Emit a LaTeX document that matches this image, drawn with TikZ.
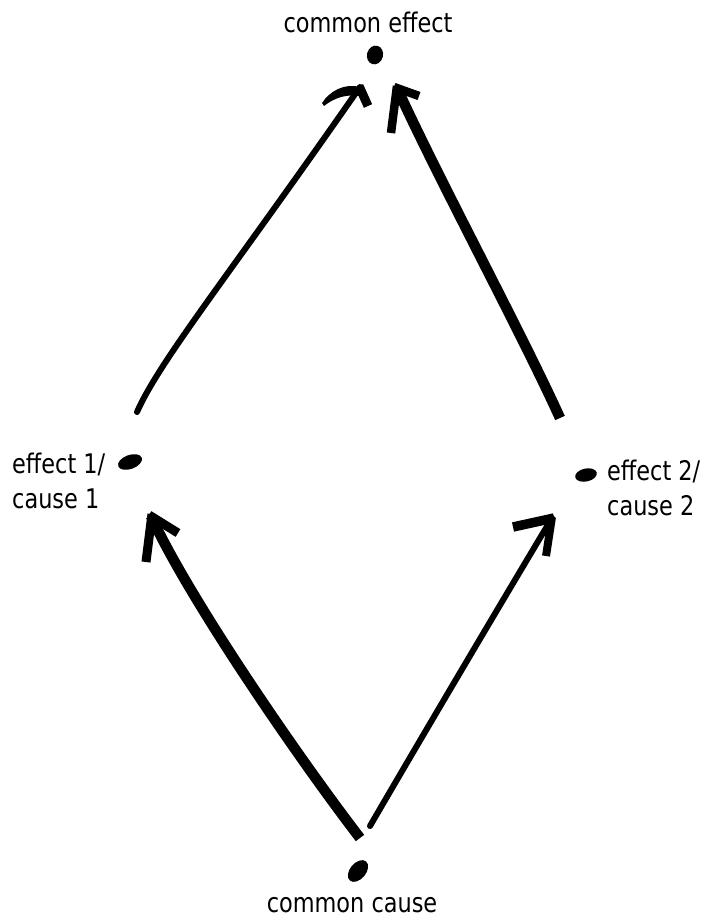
\documentclass[tikz,border=0pt]{standalone}
\usepackage{fontspec}
\setmainfont[FakeStretch=0.83]{DejaVu Sans}
\usetikzlibrary{calc,shapes.geometric}

\begin{document}
\begin{tikzpicture}[x=1pt,y=-1pt,
  blob/.style={ellipse,fill=black,draw=none,inner sep=0pt},
  lbl/.style={inner sep=0pt,font=\fontsize{27}{35}\selectfont},
  thinstroke/.style={line width=6pt,line cap=round},
  thickstroke/.style={line width=10.5pt,line cap=butt},
  barb/.style={line width=8.5pt,line cap=butt,line join=round},
]
\useasboundingbox (0,0) rectangle (704,920);

% the four events
\node[blob,minimum width=16pt,minimum height=19pt,rotate=-15] (ce) at (375,55) {};
\node[blob,minimum width=25pt,minimum height=14pt,rotate=20] (e1) at (130,462) {};
\node[blob,minimum width=22pt,minimum height=13pt,rotate=12] (e2) at (586,475) {};
\node[blob,minimum width=25pt,minimum height=16pt,rotate=50] (cc) at (358,871) {};

% labels
\node[lbl,anchor=base] (tce) at (368,33) {common effect};
\node[lbl,anchor=base] (tcc) at (352,912) {common cause};
\node[lbl,anchor=base west] (te1a) at (12,473) {effect 1/};
\node[lbl,anchor=base west] (te1b) at (12,508) {cause 1};
\node[lbl,anchor=base west] (te2a) at (607,480) {effect 2/};
\node[lbl,anchor=base west] (te2b) at (607,515) {cause 2};

% arrow ends, placed relative to the events they join
\coordinate (aTail) at ($(e1)+(7,-50)$);
\coordinate (aTip)  at ($(ce)+(-15,32)$);
\coordinate (bTail) at ($(e2)+(-26,-57)$);
\coordinate (bTip)  at ($(ce)+(22,33)$);
\coordinate (cTail) at ($(cc)+(2,-33)$);
\coordinate (cTip)  at ($(e1)+(21,54)$);
\coordinate (dTail) at ($(cc)+(12,-45)$);
\coordinate (dTip)  at ($(e2)+(-34,43)$);

% effect 1 -> common effect
\draw[thinstroke] (aTail) .. controls ($(aTail)+(23,-52)$) and ($(aTip)+(-130,187)$) .. (aTip);
\fill (aTip) .. controls ($(aTip)+(-16,-4)$) and ($(aTip)+(-30,4)$) .. ($(aTip)+(-38,16)$)
  -- ($(aTip)+(-36,19)$) .. controls ($(aTip)+(-26,11)$) and ($(aTip)+(-14,7)$) .. ($(aTip)+(-1,9)$) -- cycle;
\draw[barb,line width=9pt] ($(aTip)+(-1,-1)$) -- ($(aTip)+(8,19)$);

% effect 2 -> common effect
\draw[thickstroke] (bTail) .. controls ($(bTail)+(-40,-88)$) and ($(bTip)+(42,92)$) .. (bTip);
\draw[barb] ($(bTip)+(0,-2)$) -- ($(bTip)+(-6,45)$);
\draw[barb] ($(bTip)+(-3,-1)$) -- ($(bTip)+(22,8)$);

% common cause -> effect 1
\draw[thickstroke] (cTail) .. controls ($(cTail)+(-60,-78)$) and ($(cTip)+(38,83)$) .. (cTip);
\draw[barb,line width=9pt] ($(cTip)+(1,-2)$) -- ($(cTip)+(-5,46)$);
\draw[barb,line width=9pt] ($(cTip)+(-2,-1)$) -- ($(cTip)+(27,17)$);

% common cause -> effect 2
\draw[thinstroke] (dTail) .. controls ($(dTail)+(50,-86)$) and ($(dTip)+(-51,85)$) .. (dTip);
\draw[barb,line width=9.5pt] ($(dTip)+(2,0)$) -- ($(dTip)+(-39,9)$);
\draw[barb,line width=8pt] ($(dTip)+(0,-1)$) -- ($(dTip)+(-6,38)$);

\end{tikzpicture}
\end{document}
